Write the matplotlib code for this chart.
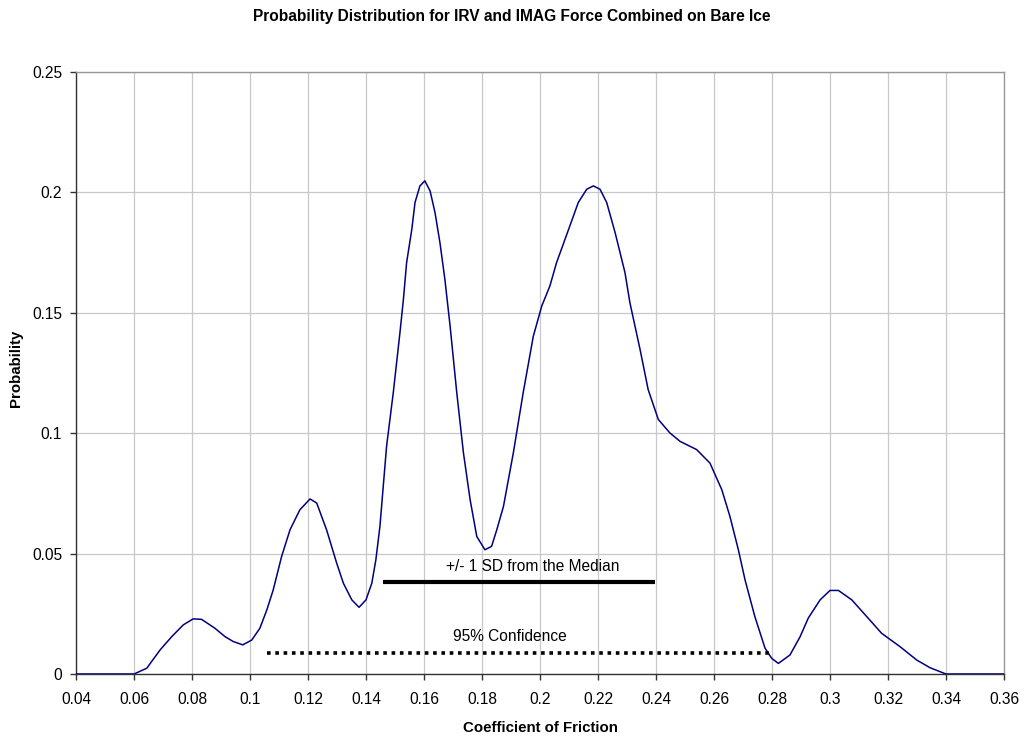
import matplotlib
matplotlib.use("Agg")
import matplotlib.pyplot as plt

plt.rcParams['font.family'] = ['Liberation Sans', 'DejaVu Sans']

coef = [0.04, 0.05, 0.06, 0.0644, 0.0690, 0.0730, 0.0770, 0.0804, 0.0833, 0.0879, 0.0914,
        0.0942, 0.0975, 0.1006, 0.1034, 0.1058, 0.1080, 0.1109, 0.1138, 0.1172, 0.1207,
        0.1230, 0.1264, 0.1299, 0.1322, 0.1351, 0.1376, 0.1400, 0.1420, 0.1434, 0.1448,
        0.1471, 0.1494, 0.1517, 0.1529, 0.1540, 0.1558, 0.1569, 0.1586, 0.1603, 0.1621,
        0.1638, 0.1655, 0.1672, 0.1690, 0.1713, 0.1736, 0.1759, 0.1782, 0.1810, 0.1833,
        0.1851, 0.1874, 0.1908, 0.1942, 0.1977, 0.2006, 0.2034, 0.2057, 0.2103, 0.2132,
        0.2161, 0.2184, 0.2207, 0.2230, 0.2259, 0.2293, 0.2310, 0.2345, 0.2373, 0.2408,
        0.2448, 0.2483, 0.2540, 0.2586, 0.2627, 0.2655, 0.2684, 0.2707, 0.2741, 0.2776,
        0.2799, 0.2822, 0.2862, 0.2897, 0.2925, 0.2966, 0.3000, 0.3029, 0.3075, 0.3127,
        0.3178, 0.3241, 0.3299, 0.3345, 0.34, 0.35, 0.36]
prob = [0.0, 0.0, 0.0, 0.0024, 0.0100, 0.0155, 0.0204, 0.0229, 0.0227, 0.0190, 0.0155,
        0.0135, 0.0121, 0.0141, 0.0190, 0.0266, 0.0349, 0.0488, 0.0599, 0.0682, 0.0727,
        0.0710, 0.0599, 0.0460, 0.0377, 0.0308, 0.0277, 0.0308, 0.0377, 0.0474, 0.0613,
        0.0946, 0.1168, 0.1417, 0.1556, 0.1708, 0.1847, 0.1958, 0.2027, 0.2048, 0.2006,
        0.1916, 0.1791, 0.1639, 0.1445, 0.1168, 0.0918, 0.0724, 0.0571, 0.0516, 0.0530,
        0.0599, 0.0696, 0.0918, 0.1168, 0.1403, 0.1528, 0.1611, 0.1708, 0.1861, 0.1958,
        0.2013, 0.2027, 0.2013, 0.1958, 0.1833, 0.1667, 0.1542, 0.1348, 0.1181, 0.1057,
        0.1001, 0.0966, 0.0932, 0.0876, 0.0765, 0.0654, 0.0516, 0.0391, 0.0238, 0.0107,
        0.0065, 0.0044, 0.0079, 0.0155, 0.0232, 0.0308, 0.0347, 0.0347, 0.0308, 0.0238,
        0.0169, 0.0114, 0.0058, 0.0026, 0.0, 0.0, 0.0]

sd_range = [0.1459, 0.2395]
sd_level = 0.0380
ci_range = [0.1058, 0.2790]
ci_level = 0.0087

xticks = [0.04, 0.06, 0.08, 0.1, 0.12, 0.14, 0.16, 0.18, 0.2, 0.22, 0.24, 0.26, 0.28, 0.3, 0.32, 0.34, 0.36]
xtick_labels = ['0.04', '0.06', '0.08', '0.1', '0.12', '0.14', '0.16', '0.18', '0.2', '0.22',
                '0.24', '0.26', '0.28', '0.3', '0.32', '0.34', '0.36']
yticks = [0, 0.05, 0.1, 0.15, 0.2, 0.25]
ytick_labels = ['0', '0.05', '0.1', '0.15', '0.2', '0.25']

fig = plt.figure(figsize=(10.24, 7.42), dpi=100)
ax = fig.add_axes([76/1024, 68/742, 928/1024, 602/742])

ax.plot(coef, prob, color='#000080', lw=1.1, zorder=3, solid_joinstyle='round')
ax.plot(sd_range, [sd_level, sd_level], color='black', lw=3, solid_capstyle='butt', zorder=4)
ax.plot(ci_range, [ci_level, ci_level], color='black', lw=2.6, linestyle=(0, (1, 1.3)),
        dash_capstyle='butt', zorder=4)

ax.text(0.1976, 0.0446, '+/- 1 SD from the Median', ha='center', va='center', fontsize=11.2)
ax.text(0.1897, 0.0155, '95% Confidence', ha='center', va='center', fontsize=11.2)

ax.set_xlim(0.04, 0.36)
ax.set_ylim(0, 0.25)
ax.set_xticks(xticks)
ax.set_xticklabels(xtick_labels, fontsize=11.2)
ax.set_yticks(yticks)
ax.set_yticklabels(ytick_labels, fontsize=11.2)
ax.grid(True, color='#c8c8c8', lw=0.9)
ax.set_axisbelow(True)
ax.tick_params(direction='out', length=4, width=1, color='#333333')
ax.tick_params(axis='x', pad=9)
ax.tick_params(axis='y', pad=6)

for s in ['top', 'right']:
    ax.spines[s].set_color('#999999')
    ax.spines[s].set_linewidth(1)
for s in ['left', 'bottom']:
    ax.spines[s].set_color('#333333')
    ax.spines[s].set_linewidth(1)

fig.text(512/1024, 1 - 16/742, 'Probability Distribution for IRV and IMAG Force Combined on Bare Ice',
         ha='center', va='center', fontsize=11.2, fontweight='bold')
fig.text(540/1024, 1 - 728/742, 'Coefficient of Friction', ha='center', va='center',
         fontsize=10.8, fontweight='bold')
fig.text(16/1024, 1 - 368/742, 'Probability', ha='center', va='center', rotation=90,
         fontsize=10.8, fontweight='bold')

fig.savefig('out.png', dpi=100)
